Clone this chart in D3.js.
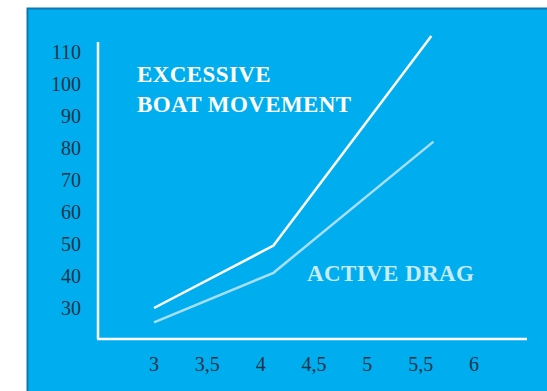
<!DOCTYPE html>
<html>
<head>
<meta charset="utf-8">
<script src="https://cdn.jsdelivr.net/npm/d3@7"></script>
<style>
  html, body { margin: 0; padding: 0; background: #ffffff; }
  svg { display: block; }
  text { font-family: "Liberation Serif", "DejaVu Serif", serif; }
</style>
</head>
<body>
<svg id="chart" width="547" height="391"></svg>
<script>
// Stroke rate (x) against resistance (y) for two error types
const yTicks = [30, 40, 50, 60, 70, 80, 90, 100, 110];
const xTicks = [3, 3.5, 4, 4.5, 5, 5.5, 6];
const xTickLabels = ["3", "3,5", "4", "4,5", "5", "5,5", "6"];

const excessiveX = [3, 4.12, 5.6];
const excessiveY = [30, 49.5, 115];
const activeX = [3, 4.12, 5.62];
const activeY = [25.5, 41, 82];

const seriesNames = [["EXCESSIVE", "BOAT MOVEMENT"], ["ACTIVE DRAG"]];

const svg = d3.select("#chart");

// panel
svg.append("rect")
  .attr("x", 27.5).attr("y", 8.5)
  .attr("width", 530).attr("height", 400)
  .attr("fill", "#00aeef")
  .attr("stroke", "#0b78b5").attr("stroke-width", 2);

const x = d3.scaleLinear().domain([3, 6]).range([154, 474]);
const y = d3.scaleLinear().domain([30, 110]).range([308, 52]);

// axis frame lines
svg.append("line")
  .attr("x1", 98).attr("x2", 98).attr("y1", 42).attr("y2", 339)
  .attr("stroke", "#ffffff").attr("stroke-width", 2.5);
svg.append("line")
  .attr("x1", 97).attr("x2", 527).attr("y1", 339).attr("y2", 339)
  .attr("stroke", "#ffffff").attr("stroke-width", 2.5);

// y tick labels
svg.append("g").selectAll("text")
  .data(yTicks).join("text")
  .attr("x", 81).attr("y", d => y(d))
  .attr("dy", "0.35em")
  .attr("text-anchor", "end")
  .attr("font-size", 20)
  .attr("fill", "#1b3447")
  .text(d => d);

// x tick labels
svg.append("g").selectAll("text")
  .data(xTicks).join("text")
  .attr("x", d => x(d)).attr("y", 371)
  .attr("text-anchor", "middle")
  .attr("font-size", 20)
  .attr("fill", "#1b3447")
  .text((d, i) => xTickLabels[i]);

const line = d3.line().x(d => x(d[0])).y(d => y(d[1]));

svg.append("path")
  .datum(activeX.map((v, i) => [v, activeY[i]]))
  .attr("d", line)
  .attr("fill", "none")
  .attr("stroke", "#a9def5").attr("stroke-width", 2.5);

svg.append("path")
  .datum(excessiveX.map((v, i) => [v, excessiveY[i]]))
  .attr("d", line)
  .attr("fill", "none")
  .attr("stroke", "#ffffff").attr("stroke-width", 2.5);

// series labels
const lbl1 = svg.append("text")
  .attr("font-size", 23).attr("font-weight", "bold")
  .attr("letter-spacing", 0.4)
  .attr("fill", "#ffffff");
lbl1.append("tspan").attr("x", 137).attr("y", 82).text(seriesNames[0][0]);
lbl1.append("tspan").attr("x", 137).attr("y", 112).text(seriesNames[0][1]);

svg.append("text")
  .attr("x", 307).attr("y", 281)
  .attr("font-size", 23).attr("font-weight", "bold")
  .attr("letter-spacing", 0.4)
  .attr("fill", "#c8ebf8")
  .text(seriesNames[1][0]);
</script>
</body>
</html>
